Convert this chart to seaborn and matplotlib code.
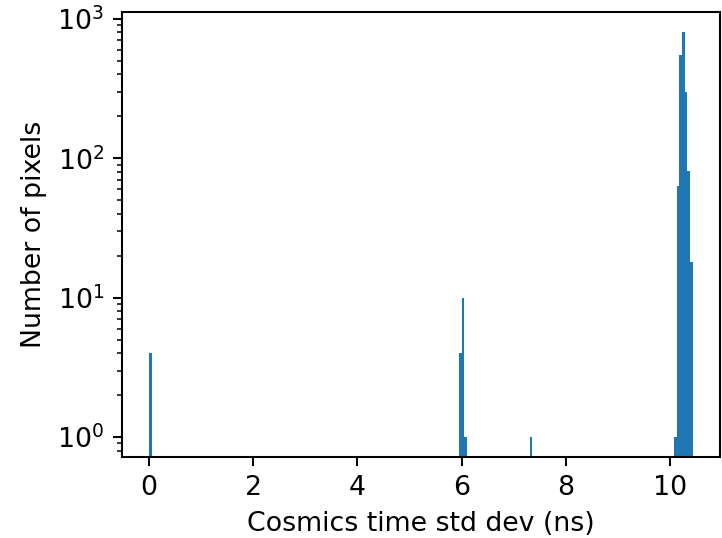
# histogram of cosmics time std dev per pixel, log count axis
import numpy as np
import matplotlib
matplotlib.use('Agg')
import matplotlib.pyplot as plt
import seaborn as sns

# bin values (ns) and pixel counts
std_dev_ns = [0.02, 5.98, 6.03, 6.08, 7.33,
              10.10, 10.15, 10.20, 10.26, 10.31, 10.36, 10.41]
n_pixels = [4, 4, 10, 1, 1,
            1, 63, 555, 810, 300, 81, 18]

n_bins = 200
bin_range = (0, 10.44)

plt.rcParams['font.size'] = 10.4

dpi = 185
fig = plt.figure(figsize=(722 / dpi, 538 / dpi), dpi=dpi)
ax = fig.add_axes([122 / 722, 1 - 457 / 538, (720 - 122) / 722, (457 - 12) / 538])

sns.histplot(x=std_dev_ns, weights=n_pixels, bins=n_bins, binrange=bin_range,
             color='#1f77b4', alpha=1, linewidth=0, ax=ax)
ax.set_yscale('log')
ax.set_ylim(0.72, 1120)
ax.set_xlabel('Cosmics time std dev (ns)')
ax.set_ylabel('Number of pixels')

fig.savefig('out.png', dpi=dpi)
